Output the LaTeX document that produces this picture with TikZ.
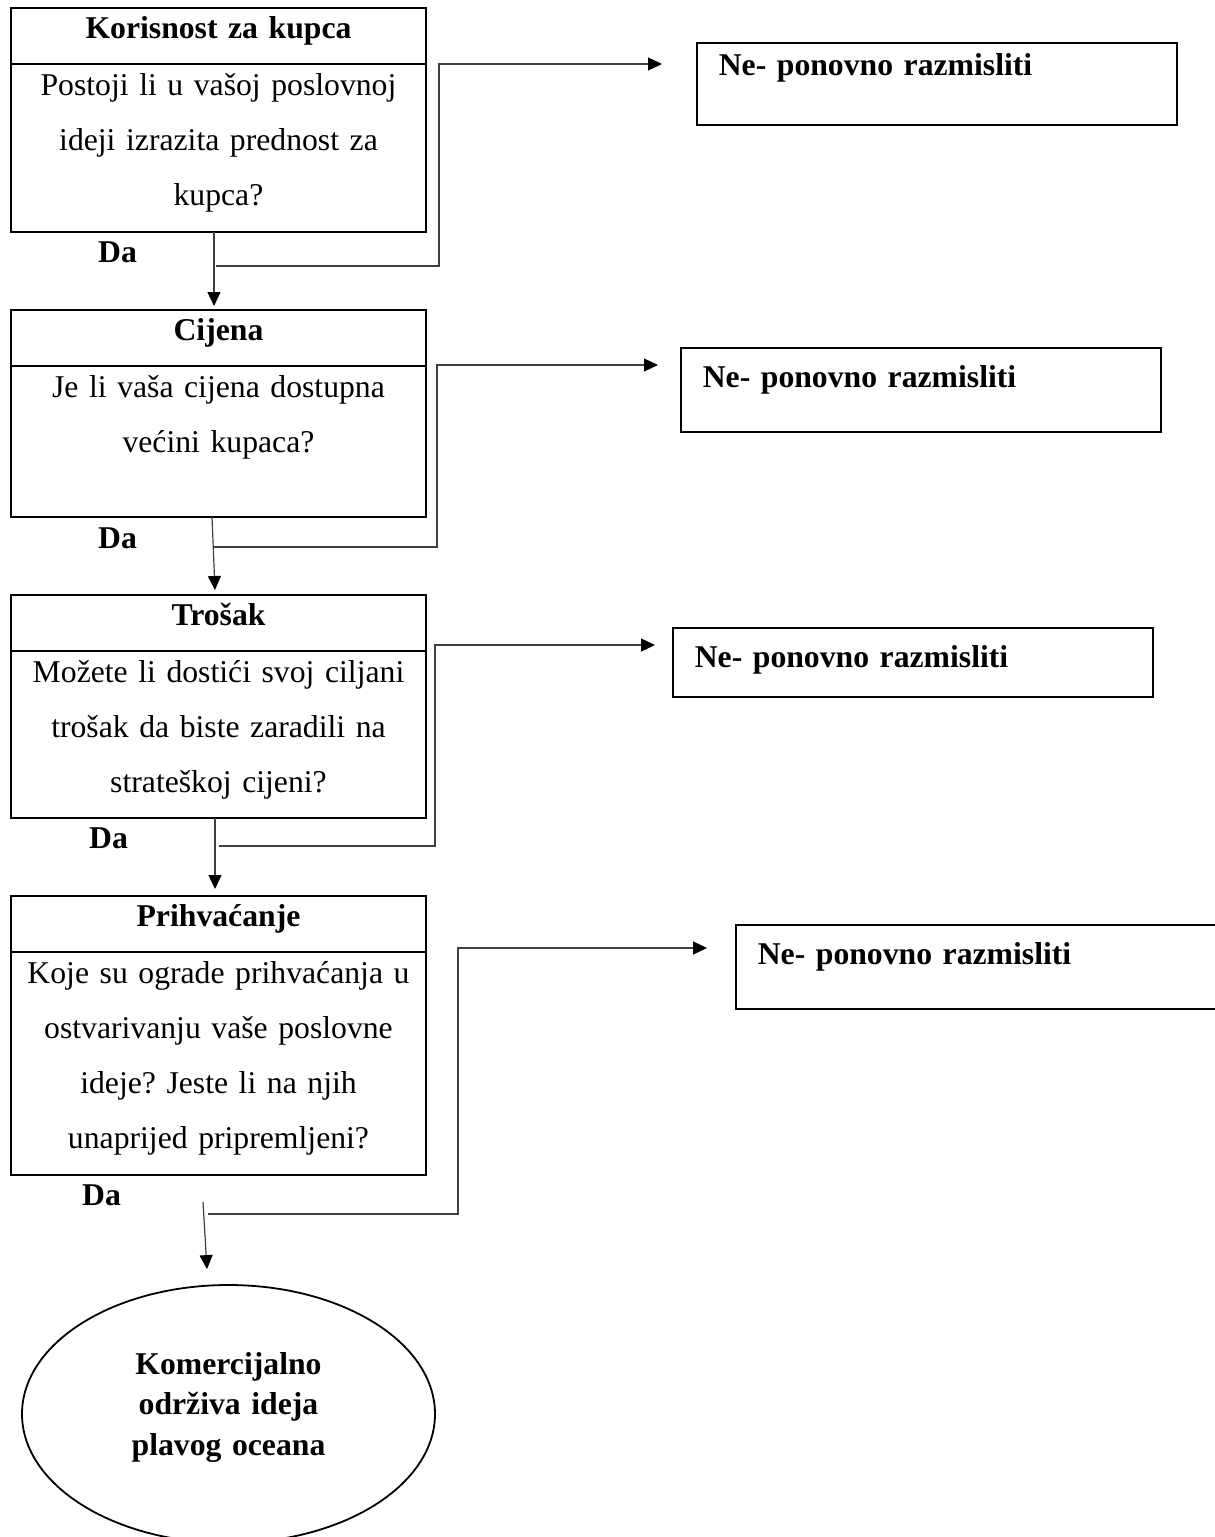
\documentclass[tikz,border=0pt]{standalone}
\usepackage{fontspec}
\setmainfont{Liberation Serif}
\usepackage{tikz}
\usetikzlibrary{arrows.meta,shapes.geometric}
\frenchspacing
\definecolor{line}{HTML}{404040}
\tikzset{
  hdr/.style={draw, line width=2pt, outer sep=0pt, text width=415pt, inner xsep=0pt, inner ysep=0pt,
    align=center, text height=30pt, text depth=26pt, font=\bfseries\fontsize{31.7}{38}\selectfont},
  body/.style={draw, line width=2pt, outer sep=0pt, text width=415pt, inner xsep=0pt, inner ysep=0pt,
    align=center, text height=31pt, font=\fontsize{31.7}{55}\selectfont},
  ne/.style={draw, line width=1.6pt, text width=436pt, inner xsep=22pt, inner ysep=0pt,
    align=left, anchor=north west, font=\bfseries\fontsize{31.7}{38}\selectfont},
  da/.style={anchor=base west, inner sep=0pt, font=\bfseries\fontsize{31.7}{38}\selectfont},
  goal/.style={draw, ellipse, line width=1.8pt, minimum width=413pt, minimum height=258pt,
    text width=260pt, align=center, inner sep=0pt, text height=30pt, text depth=110pt,
    font=\bfseries\fontsize{31.7}{40.5}\selectfont},
  arr/.style={draw=line, line width=1.2pt, -{Triangle[length=14pt,width=13pt,color=black]}}
}
\begin{document}
\begin{tikzpicture}[x=1pt,y=-1pt]
  \useasboundingbox (0,0) rectangle (1215,1537);

  \node[hdr,anchor=north] (h1) at (218.5,8) {Korisnost za kupca};
  \node[body,anchor=north,text depth=137pt] (b1) at (h1.south)
    {Postoji li u vašoj poslovnoj\\ ideji izrazita prednost za\\ kupca?};
  \node[hdr,anchor=north] (h2) at (218.5,310) {Cijena};
  \node[body,anchor=north,text depth=120pt] (b2) at (h2.south)
    {Je li vaša cijena dostupna\\ većini kupaca?};
  \node[hdr,anchor=north] (h3) at (218.5,595) {Trošak};
  \node[body,anchor=north,text depth=136pt] (b3) at (h3.south)
    {Možete li dostići svoj ciljani\\ trošak da biste zaradili na\\ strateškoj cijeni?};
  \node[hdr,anchor=north] (h4) at (218.5,896) {Prihvaćanje};
  \node[body,anchor=north,text depth=192pt] (b4) at (h4.south)
    {Koje su ograde prihvaćanja u\\ ostvarivanju vaše poslovne\\ ideje? Jeste li na njih\\ unaprijed pripremljeni?};

  \node[ne,text height=33pt,text depth=49pt] (ne1) at (696,42) {Ne- ponovno razmisliti};
  \node[ne,text height=40pt,text depth=44pt] (ne2) at (680,347) {Ne- ponovno razmisliti};
  \node[ne,text height=40pt,text depth=29pt] (ne3) at (672,627) {Ne- ponovno razmisliti};
  \node[ne,text height=40pt,text depth=44pt] (ne4) at (735,924) {Ne- ponovno razmisliti};

  \node[da] (da1) at (98,262) {Da};
  \node[da] (da2) at (98,548) {Da};
  \node[da] (da3) at (89,848) {Da};
  \node[da] (da4) at (82,1205) {Da};

  \node[goal] (goal) at (228.5,1414) {Komercijalno\\ održiva ideja\\ plavog oceana};

  \coordinate (s1) at (216,266);  \coordinate (c1) at (439,64);  \coordinate (t1) at (662,64);
  \coordinate (s2) at (214,547);  \coordinate (c2) at (437,365); \coordinate (t2) at (658,365);
  \coordinate (s3) at (219,846);  \coordinate (c3) at (435,645); \coordinate (t3) at (655,645);
  \coordinate (s4) at (208,1214); \coordinate (c4) at (458,948); \coordinate (t4) at (707,948);
  \coordinate (d4) at (203,1202);

  \draw[arr] ([xshift=-4.5pt]b1.south) -- ([xshift=-4.5pt,yshift=4pt]h2.north);
  \draw[arr] ([xshift=-6.5pt]b2.south) -- ([xshift=-3.5pt,yshift=5pt]h3.north);
  \draw[arr] ([xshift=-3.5pt]b3.south) -- ([xshift=-3.5pt,yshift=7pt]h4.north);
  \draw[arr] (d4) -- ([xshift=-21.5pt,yshift=15pt]goal.north);

  \draw[arr] (s1) -| (c1) -- (t1);
  \draw[arr] (s2) -| (c2) -- (t2);
  \draw[arr] (s3) -| (c3) -- (t3);
  \draw[arr] (s4) -| (c4) -- (t4);
\end{tikzpicture}
\end{document}
